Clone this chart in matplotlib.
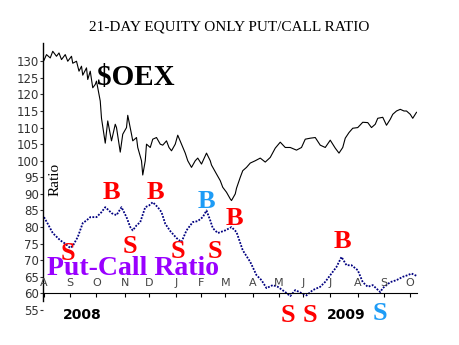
import matplotlib
matplotlib.use("Agg")
import matplotlib.pyplot as plt

# x axis = trading day counted from 1 Aug 2008
month_days = [0, 21, 42, 65, 84, 106, 126, 145, 167, 188, 207, 229, 251, 272, 293]
month_labels = ["A", "S", "O", "N", "D", "J", "F", "M", "A", "M", "J", "J", "A", "S", "O"]

oex_day = [0, 2, 5, 7, 10, 12, 14, 17, 19, 22, 23, 26, 28, 30, 31, 34, 35, 37, 39, 41,
           42, 45, 46, 49, 51, 53, 54, 57, 58, 61, 63, 66, 67, 70, 71, 74, 75, 78, 79, 81,
           82, 85, 87, 90, 93, 95, 98, 100, 102, 105, 107, 110, 113, 115, 118, 121, 123, 126, 130, 133,
           134, 138, 141, 143, 146, 149, 150, 153, 154, 157, 159, 162, 165, 169, 173, 177, 181, 185, 189, 193,
           197, 202, 206, 209, 213, 217, 221, 225, 229, 233, 236, 239, 241, 244, 247, 251, 255, 259, 262, 265,
           267, 271, 274, 277, 279, 282, 285, 288, 290, 293, 295, 298]
oex_val = [130.3, 132, 131, 133, 131.5, 132.5, 130.5, 132, 130, 131.5,
           129.4, 130, 127, 128.5, 125.8, 128, 124.5, 127, 122, 123,
           124, 118, 112.8, 105.3, 112, 108, 106, 111, 110, 102.6,
           108, 110, 113.7, 108, 106, 107, 104, 100, 95.7, 100,
           105, 104, 106.5, 107, 105, 104.7, 106, 104, 103, 105,
           107.7, 105, 102.3, 100, 98, 100, 100.8, 99, 102.3, 100,
           98.7, 96, 94, 92, 90.5, 88.5, 88, 90, 91.7, 95,
           97, 98, 99.3, 100, 100.8, 99.6, 101, 103.8, 105.6, 104,
           104, 103.2, 104, 106.5, 106.8, 107, 104.7, 104, 106.2, 103.8,
           102.3, 104, 106.8, 108.5, 109.8, 110, 111.6, 111.5, 110, 111,
           112.8, 113.1, 110.7, 112.5, 114, 115, 115.5, 115, 115, 114,
           112.8, 114.6]

pc_day = [0, 3, 7, 13, 17, 21, 23, 27, 31, 34, 37, 42, 46, 49, 52, 54, 58, 62, 66, 69,
          71, 74, 77, 81, 84, 87, 91, 94, 97, 101, 106, 110, 114, 119, 123, 127, 130, 133, 135, 139,
          145, 150, 154, 159, 165, 170, 174, 178, 183, 187, 193, 197, 201, 206, 210, 215, 221, 225, 229, 234,
          238, 242, 246, 251, 255, 259, 263, 269, 271, 277, 282, 287, 291, 294, 298]
pc_val = [83, 81, 78.2, 76, 75, 73.7, 74.3, 77, 81.2, 82, 83, 83, 84.5, 86, 85, 84.2, 83.6, 86, 83, 80,
          79, 80.5, 81.5, 86, 86.5, 87.5, 86, 84.5, 81, 78.8, 76.7, 75.5, 79, 81.5, 81.8, 83, 85, 82, 79.7, 78.2,
          79, 80, 78.5, 73, 69.5, 65.5, 64, 61.6, 62.5, 62, 60.4, 59.2, 61, 60.1, 59.4, 61, 62, 63.5, 65.5, 68,
          71, 68.5, 68.5, 67, 63.4, 62, 62.5, 60.4, 61.6, 63.4, 64, 65, 65.5, 66, 65.3]

# buy / sell signals: letter, colour, day, baseline value
sig_text = ["S", "B", "S", "B", "S", "B", "S", "B", "B", "S", "S", "S"]
sig_color = ["r", "r", "r", "r", "r", "b", "r", "r", "r", "r", "r", "b"]
sig_day = [19, 54, 69, 89, 107, 130, 137, 152, 239, 195, 213, 269]
sig_val = [70.1, 88.4, 72.2, 88.4, 70.7, 85.7, 70.7, 80.6, 73.7, 51.4, 51.4, 52.0]
colors = {"r": "#ff0000", "b": "#1e9cf6"}

fig = plt.figure(figsize=(4.6, 3.45), dpi=100)
ax = fig.add_axes([43 / 460, 1 - 310 / 345, 374 / 460, 267 / 345])
ax.set_xlim(-0.8, 298.4)
ax.set_ylim(55, 135.5)

ax.plot(oex_day, oex_val, color="black", lw=0.8)
ax.plot(pc_day, pc_val, color="#000080", lw=1.3, ls=(0, (1, 0.8)))

for sp in ["top", "right"]:
    ax.spines[sp].set_visible(False)
ax.spines["bottom"].set_position(("data", 60))
ax.spines["left"].set_bounds(57.6, 135.5)
ax.spines["left"].set_linewidth(1)
ax.set_yticks(range(55, 135, 5))
ax.tick_params(axis="y", direction="out", length=2, pad=1, labelsize=8.5, colors="#333333")
ax.set_xticks(month_days)
ax.tick_params(axis="x", direction="out", length=3, labelbottom=False)

for d, lab in zip(month_days, month_labels):
    ax.text(d, 62.3, lab, ha="center", va="baseline", fontsize=8, color="#444444")

for txt, c, d, v in zip(sig_text, sig_color, sig_day, sig_val):
    ax.text(d, v, txt, color=colors[c], fontsize=19, fontweight="bold",
            family="Liberation Serif", ha="center", va="baseline", clip_on=False)

ax.text(42.4, 122.8, "$OEX", fontsize=21, fontweight="bold", family="Liberation Serif",
        ha="left", va="baseline")
ax.text(2.4, 65.6, "Put-Call Ratio", fontsize=20, fontweight="bold", family="Liberation Serif",
        color="#9900ff", ha="left", va="baseline")
ax.text(8.8, 94.5, "Ratio", fontsize=11, family="Liberation Serif", rotation=90,
        ha="center", va="center")
ax.text(31, 53.5, "2008", fontsize=10, fontweight="bold", ha="center", va="center", clip_on=False)
ax.text(242, 53.5, "2009", fontsize=10, fontweight="bold", ha="center", va="center", clip_on=False)

fig.text(229 / 460, 1 - 27 / 345, "21-DAY EQUITY ONLY PUT/CALL RATIO", fontsize=11,
         family="Liberation Serif", ha="center", va="center")

fig.savefig("out.png", dpi=100)
